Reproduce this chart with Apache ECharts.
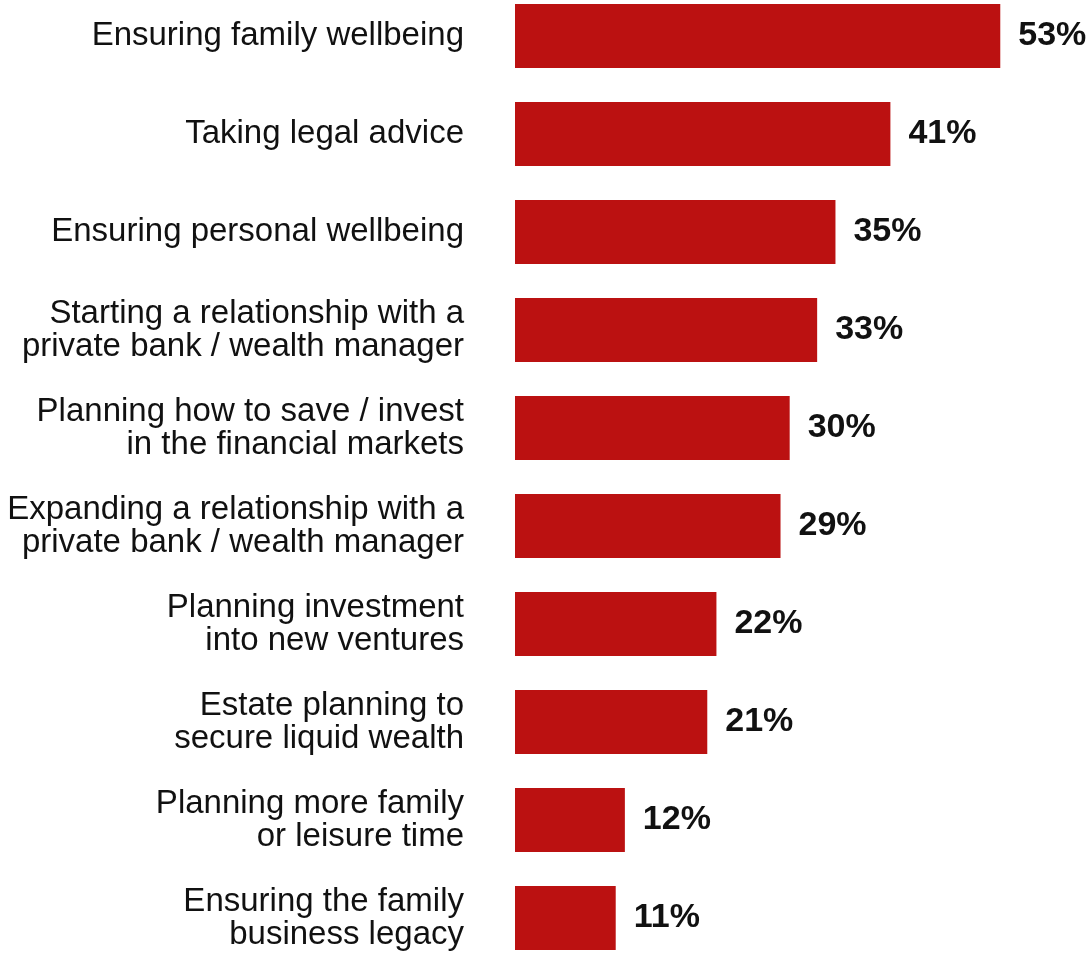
<!DOCTYPE html>
<html>
<head>
<meta charset="utf-8">
<script src="https://cdn.jsdelivr.net/npm/echarts@6/dist/echarts.min.js"></script>
<style>
  html, body { margin: 0; padding: 0; background: #ffffff; }
  #chart { width: 1090px; height: 956px; }
</style>
</head>
<body>
<div id="chart"></div>
<script>
// Share of respondents naming each priority (%)
const categories = [
  'Ensuring family wellbeing',
  'Taking legal advice',
  'Ensuring personal wellbeing',
  'Starting a relationship with a\nprivate bank / wealth manager',
  'Planning how to save / invest\nin the financial markets',
  'Expanding a relationship with a\nprivate bank / wealth manager',
  'Planning investment\ninto new ventures',
  'Estate planning to\nsecure liquid wealth',
  'Planning more family\nor leisure time',
  'Ensuring the family\nbusiness legacy'
];
const values = [53, 41, 35, 33, 30, 29, 22, 21, 12, 11];

const chart = echarts.init(document.getElementById('chart'), null, { renderer: 'canvas' });

chart.setOption({
  animation: false,
  backgroundColor: '#ffffff',
  // categories sit on the tick positions, first at the top edge, last at the bottom
  grid: { left: 515, right: 0, top: 36, bottom: 38, containLabel: false },
  xAxis: {
    type: 'value',
    min: 0,
    max: 62.8,
    show: false
  },
  yAxis: {
    type: 'category',
    inverse: true,
    boundaryGap: false,
    data: categories,
    axisLine: { show: false },
    axisTick: { show: false },
    splitLine: { show: false },
    axisLabel: {
      margin: 51,
      color: '#111111',
      fontFamily: 'Liberation Sans',
      fontSize: 33,
      lineHeight: 33,
      padding: [4, 0, 0, 0],
      align: 'right'
    }
  },
  series: [{
    type: 'bar',
    data: values,
    barWidth: 64,
    itemStyle: { color: '#BB1111' },
    label: {
      show: true,
      position: 'right',
      distance: 18,
      formatter: '{c}%',
      color: '#111111',
      fontFamily: 'Liberation Sans',
      fontWeight: 'bold',
      fontSize: 34,
      padding: [4, 0, 0, 0]
    }
  }]
});
</script>
</body>
</html>
